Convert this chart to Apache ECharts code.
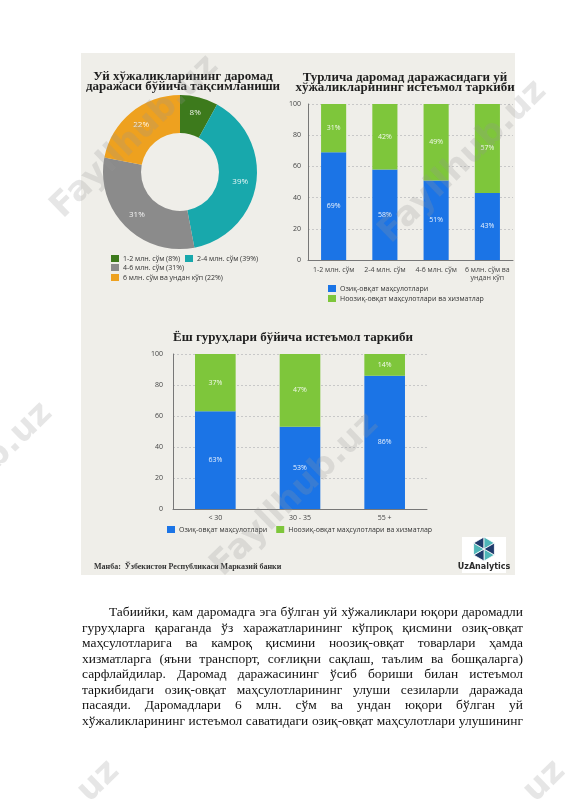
<!DOCTYPE html>
<html>
<head>
<meta charset="utf-8">
<script src="https://cdn.jsdelivr.net/npm/echarts@6/dist/echarts.min.js"></script>
<style>
html,body{margin:0;padding:0;background:#fff;}
#chart{position:absolute;left:0;top:0;width:565px;height:800px;}
#para{position:absolute;left:82px;top:604px;width:441px;font-family:"Liberation Serif",serif;font-size:14px;line-height:15.5px;color:#111;}
#para div{white-space:nowrap;height:15.5px;}
#para span{display:inline-block;}
</style>
</head>
<body>
<div id="chart"></div>
<div id="para">
<div data-indent="27"><span>Табиийки, кам даромадга эга бўлган уй хўжаликлари юқори даромадли</span></div>
<div><span>гуруҳларга қараганда ўз харажатларининг кўпроқ қисмини озиқ-овқат</span></div>
<div><span>маҳсулотларига ва камроқ қисмини ноозиқ-овқат товарлари ҳамда</span></div>
<div><span>хизматларга (яъни транспорт, соғлиқни сақлаш, таълим ва бошқаларга)</span></div>
<div><span>сарфлайдилар. Даромад даражасининг ўсиб бориши билан истеъмол</span></div>
<div><span>таркибидаги озиқ-овқат маҳсулотларининг улуши сезиларли даражада</span></div>
<div><span>пасаяди. Даромадлари 6 млн. сўм ва ундан юқори бўлган уй</span></div>
<div><span>хўжаликларининг истеъмол саватидаги озиқ-овқат маҳсулотлари улушининг</span></div>
</div>
<script>
// ---- data ----
const incomeGroups = ['1-2 млн. сўм', '2-4 млн. сўм', '4-6 млн. сўм', '6 млн. сўм ва ундан кўп'];
const householdShares = [8, 39, 31, 22];
const incomeCats = ['1-2 млн. сўм', '2-4 млн. сўм', '4-6 млн. сўм', '6 млн. сўм ва\nундан кўп'];
const foodByIncome = [69, 58, 51, 43];
const nonFoodByIncome = [31, 42, 49, 57];
const ageGroups = ['< 30', '30 - 35', '55 +'];
const foodByAge = [63, 53, 86];
const nonFoodByAge = [37, 47, 14];
const foodName = 'Озиқ-овқат маҳсулотлари';
const nonFoodName = 'Ноозиқ-овқат маҳсулотлари ва хизматлар';

// justify paragraph lines (fit font so the fullest line has natural spacing)
(function () {
  const W = 441;
  const para = document.getElementById('para');
  const divs = Array.from(document.querySelectorAll('#para div'));
  let ratio = 1;
  divs.forEach(function (d) {
    const ind = +(d.getAttribute('data-indent') || 0);
    const w = d.querySelector('span').getBoundingClientRect().width;
    ratio = Math.min(ratio, (W - ind - 1) / w);
  });
  para.style.fontSize = (14 * ratio).toFixed(2) + 'px';
  divs.forEach(function (d) {
    const ind = +(d.getAttribute('data-indent') || 0);
    d.style.paddingLeft = ind + 'px';
    const sp = d.querySelector('span');
    const gaps = (sp.textContent.match(/ /g) || []).length;
    const natural = sp.getBoundingClientRect().width;
    if (gaps > 0) sp.style.wordSpacing = ((W - ind - natural) / gaps) + 'px';
  });
})();

const pieColors = ['#3d7a1c', '#18a8ac', '#8b8b8b', '#eea11f'];
const blue = '#1b74e6', green = '#7ec63b';
const pieNames = incomeGroups.map((g, i) => g + ' (' + householdShares[i] + '%)');

const chart = echarts.init(document.getElementById('chart'), null, {renderer: 'canvas'});
const sans = 'Open Sans';

function legendAt(data, left, top, orient, gap) {
  return {data: data, left: left, top: top, orient: orient || 'horizontal', itemGap: gap || 10,
    padding: 0, itemWidth: 8, itemHeight: 7, icon: 'rect', selectedMode: false,
    textStyle: {fontSize: 7, color: '#333', fontFamily: sans, padding: [0, 0, 0, -1]}};
}

// logo hexagon pieces (decoration)
function logoPieces(cx, cy, r) {
  const els = [];
  const cols = ['#4fb6b8', '#1f3a6b'];
  for (let k = 0; k < 6; k++) {
    const a0 = Math.PI / 6 + k * Math.PI / 3, a1 = a0 + Math.PI / 3;
    els.push({type: 'polygon', z: 50, shape: {points: [[cx, cy], [cx + r * Math.cos(a0), cy + r * Math.sin(a0)], [cx + r * Math.cos(a1), cy + r * Math.sin(a1)]]},
      style: {fill: cols[k % 2], stroke: '#fff', lineWidth: 0.8}});
  }
  return els;
}

function wm(x, y) {
  return {type: 'text', z: 200, x: x, y: y, rotation: 0.77,
    style: {text: 'Fayllhub.uz', font: 'bold 34px "DejaVu Sans"', fill: 'rgba(150,150,150,0.24)', align: 'center', verticalAlign: 'middle'}};
}

const titleFont = 'bold 13px "Liberation Serif"';
const option = {
  animation: false,
  backgroundColor: '#ffffff',
  textStyle: {fontFamily: sans},
  graphic: [
    {type: 'rect', z: -10, shape: {x: 81, y: 53, width: 434, height: 522}, style: {fill: '#efeee9'}},
    {type: 'text', z: 10, x: 183, y: 71, style: {text: 'Уй хўжаликларининг даромад\nдаражаси бўйича тақсимланиши', font: titleFont, lineHeight: 10.5, fill: '#1e1e1e', align: 'center', verticalAlign: 'top'}},
    {type: 'text', z: 10, x: 405, y: 72, style: {text: 'Турлича даромад даражасидаги уй\nхўжаликларининг истеъмол таркиби', font: titleFont, lineHeight: 10.5, fill: '#1e1e1e', align: 'center', verticalAlign: 'top'}},
    {type: 'text', z: 10, x: 293, y: 331, style: {text: 'Ёш гуруҳлари бўйича истеъмол таркиби', font: titleFont, fill: '#1e1e1e', align: 'center', verticalAlign: 'top'}},
    {type: 'text', z: 10, x: 94, y: 567, style: {text: 'Манба:  Ўзбекистон Республикаси Марказий банки', font: 'bold 8px "Liberation Serif"', fill: '#333', align: 'left', verticalAlign: 'middle'}},
    {type: 'rect', z: 40, shape: {x: 462, y: 537, width: 44, height: 36}, style: {fill: '#ffffff'}},
    ...logoPieces(484, 549, 12),
    {type: 'text', z: 50, x: 484, y: 567, style: {text: 'UzAnalytics', font: 'bold 8px "DejaVu Sans"', fill: '#2b2b2b', align: 'center', verticalAlign: 'middle'}},
    wm(135, 137), wm(463, 162), wm(295, 495), wm(-31, 484), wm(36, 842), wm(482, 842)
  ],
  legend: [
    legendAt([pieNames[0]], 111, 255),
    legendAt([pieNames[1]], 185, 255),
    legendAt([pieNames[2]], 111, 264),
    legendAt([pieNames[3]], 111, 274),
    legendAt([foodName, nonFoodName], 328, 285, 'vertical', 3),
    legendAt([foodName, nonFoodName], 167, 526, 'horizontal', 9)
  ],
  grid: [
    {left: 308, top: 104, width: 205, height: 156},
    {left: 173, top: 354, width: 254, height: 155}
  ],
  xAxis: [0, 1].map(i => ({
    type: 'category', gridIndex: i, data: i === 0 ? incomeCats : ageGroups,
    axisLine: {lineStyle: {color: '#777'}}, axisTick: {show: false},
    axisLabel: {fontSize: 7, color: '#444', margin: i === 0 ? 6 : 5, lineHeight: 8, interval: 0}
  })),
  yAxis: [0, 1].map(i => ({
    type: 'value', gridIndex: i, min: 0, max: 100, interval: 20,
    axisLine: {show: true, lineStyle: {color: '#777'}}, axisTick: {show: false},
    axisLabel: {fontSize: 7, color: '#444', margin: i === 0 ? 7 : 10},
    splitLine: {lineStyle: {color: '#c8c8c8', type: [2, 2]}}
  })),
  series: [
    {type: 'pie', center: [180, 172], radius: [39, 77], startAngle: 90, clockwise: true,
      data: pieNames.map((n, i) => ({name: n, value: householdShares[i], itemStyle: {color: pieColors[i]}})),
      label: {show: true, position: 'inside', formatter: '{c}%', color: 'rgba(255,255,255,0.9)', fontSize: 8},
      labelLine: {show: false}},
    {type: 'bar', name: foodName, stack: 'a', xAxisIndex: 0, yAxisIndex: 0, data: foodByIncome, barWidth: '49%',
      itemStyle: {color: blue}, label: {show: true, position: 'inside', formatter: '{c}%', color: 'rgba(255,255,255,0.9)', fontSize: 7}},
    {type: 'bar', name: nonFoodName, stack: 'a', xAxisIndex: 0, yAxisIndex: 0, data: nonFoodByIncome, barWidth: '49%',
      itemStyle: {color: green}, label: {show: true, position: 'inside', formatter: '{c}%', color: 'rgba(255,255,255,0.9)', fontSize: 7}},
    {type: 'bar', name: foodName, stack: 'b', xAxisIndex: 1, yAxisIndex: 1, data: foodByAge, barWidth: '48%',
      itemStyle: {color: blue}, label: {show: true, position: 'inside', formatter: '{c}%', color: 'rgba(255,255,255,0.9)', fontSize: 7}},
    {type: 'bar', name: nonFoodName, stack: 'b', xAxisIndex: 1, yAxisIndex: 1, data: nonFoodByAge, barWidth: '48%',
      itemStyle: {color: green}, label: {show: true, position: 'inside', formatter: '{c}%', color: 'rgba(255,255,255,0.9)', fontSize: 7}}
  ]
};
chart.setOption(option);
</script>
</body>
</html>
